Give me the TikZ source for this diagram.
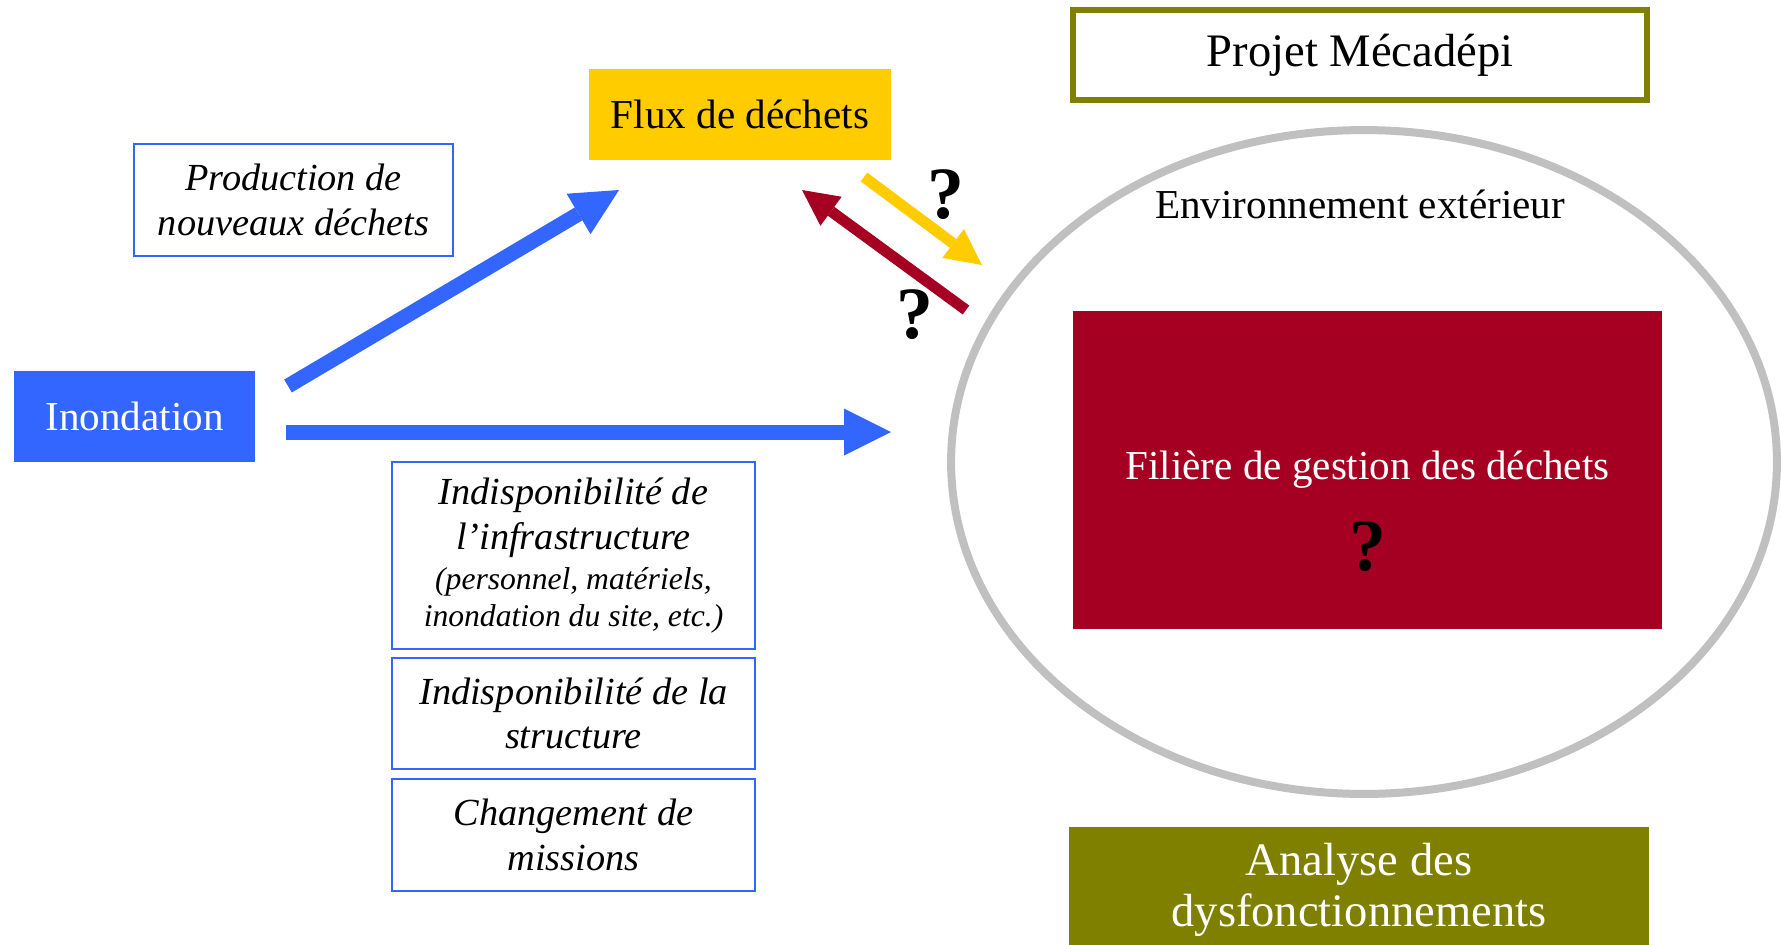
\documentclass[tikz,border=0pt]{standalone}
\usepackage{fontspec}
\setmainfont{Liberation Serif}
\usepackage{tikz}
\usetikzlibrary{arrows.meta}
\usetikzlibrary{positioning}
\usetikzlibrary{shapes.geometric}
\definecolor{inoblue}{HTML}{3366FF}
\definecolor{fluxyellow}{HTML}{FFCC00}
\definecolor{filred}{HTML}{A50021}
\definecolor{olivebar}{HTML}{808000}
\definecolor{ringgray}{HTML}{C0C0C0}

\begin{document}
\begin{tikzpicture}[x=0.02cm, y=-0.02cm,
  plain/.style={font=\fontsize{23.4}{25.5}\selectfont, align=center, inner sep=0pt},
  bigtxt/.style={font=\fontsize{26.5}{29}\selectfont, align=center, inner sep=0pt},
  causebox/.style={draw=inoblue, line width=0.05cm, font=\fontsize{21.8}{25.5}\selectfont\itshape, align=center, inner sep=0pt},
  qmark/.style={font=\fontsize{42}{50}\selectfont\bfseries, inner sep=0pt},
  blockarrow/.style={line width=0.3cm, inoblue, -{Triangle[length=0.94cm, width=0.94cm, line width=0pt]}},
  thinarrow/.style={line width=0.22cm, -{Triangle[length=0.72cm, width=0.72cm, line width=0pt]}}]

\useasboundingbox (0,0) rectangle (1781,944);

\node (projet) at (1360,55) [bigtxt, draw=olivebar, line width=0.12cm, minimum width=11.48cm, minimum height=1.82cm] {Projet M\'ecad\'epi};
\node (flux) at (740,114.5) [plain, fill=fluxyellow, minimum width=6.04cm, minimum height=1.82cm] {Flux de d\'echets};
\node (prod) at (293.5,200) [causebox, minimum width=6.38cm, minimum height=2.24cm] {Production de\\ nouveaux d\'echets};
\node (ino) at (134.5,416.5) [plain, fill=inoblue, text=white, minimum width=4.82cm, minimum height=1.82cm] {Inondation};

\node (infra) at (573.5,555.5) [causebox, minimum width=7.26cm, minimum height=3.74cm] {Indisponibilit\'e de\\ l'infrastructure\\[-2.3pt] {\fontsize{18}{21}\selectfont (personnel, mat\'eriels,}\\[-4.5pt] {\fontsize{18}{21}\selectfont inondation du site, etc.)}};
\node (struct) at (573.5,713.5) [causebox, minimum width=7.26cm, minimum height=2.22cm] {Indisponibilit\'e de la\\ structure};
\node (missions) at (573.5,835) [causebox, minimum width=7.26cm, minimum height=2.24cm] {Changement de\\ missions};

\node (env) at (1364,462) [ellipse, draw=ringgray, line width=0.16cm, minimum width=16.52cm, minimum height=13.28cm] {};
\node (envlabel) at (1360,204) [plain] {Environnement ext\'erieur};
\node (filiere) at (1367.5,470) [plain, fill=filred, text=white, minimum width=11.78cm, minimum height=6.36cm] {Fili\`ere de gestion des d\'echets};
\node (qfil) at (1368,547) [qmark] {?};

\node (analyse) at (1359,890) [bigtxt, fill=olivebar, text=white, minimum width=11.6cm, minimum height=2.52cm] {Analyse des\\ dysfonctionnements};

\coordinate (upTail) at (288,386);
\coordinate (upTip) at (619,190);
\coordinate (midTail) at (286,432);
\coordinate (midTip) at (891,432);
\draw[blockarrow] (upTail) -- (upTip);
\draw[blockarrow] (midTail) -- (midTip);

\coordinate (outTail) at (864,177);
\coordinate (outTip) at (982,265);
\coordinate (backTail) at (966,310);
\coordinate (backTip) at (802,190);
\draw[thinarrow, fluxyellow] (outTail) -- (outTip);
\draw[thinarrow, filred] (backTail) -- (backTip);
\node (qout) at (946,195) [qmark] {?};
\node (qback) at (915,315) [qmark] {?};

\end{tikzpicture}
\end{document}
